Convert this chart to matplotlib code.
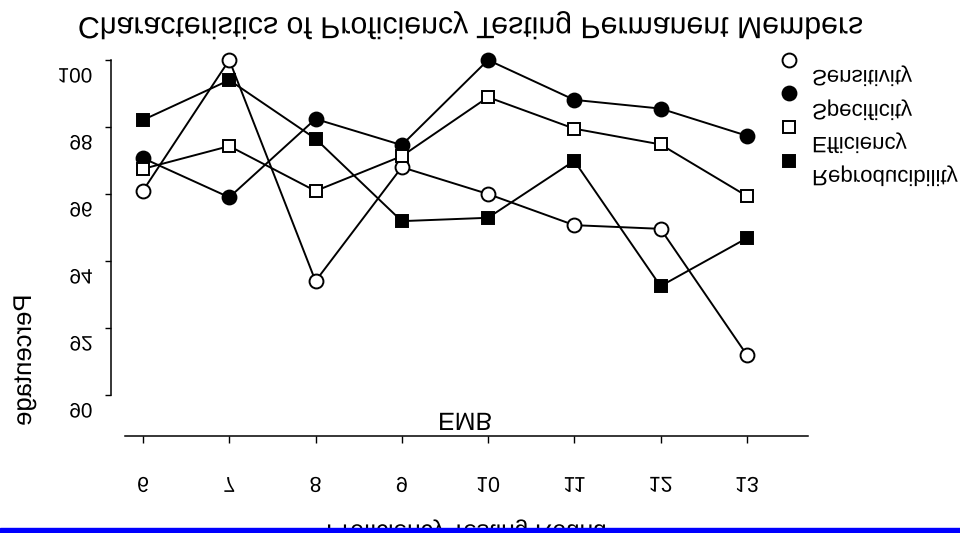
import matplotlib

matplotlib.use("agg")

import matplotlib.pyplot as plt
import matplotlib.patheffects as pe
from matplotlib.lines import Line2D
from matplotlib.patches import Rectangle
from matplotlib.transforms import Affine2D

rounds = [6, 7, 8, 9, 10, 11, 12, 13]
sensitivity = [96.1, 100.0, 93.4, 96.8, 96.0, 95.07, 94.96, 91.2]
specificity = [97.07, 95.9, 98.24, 97.46, 100.0, 98.81, 98.55, 97.74]
efficiency = [96.75, 97.43, 96.09, 97.13, 98.89, 97.95, 97.48, 95.94]
reproducibility = [98.21, 99.4, 97.65, 95.19, 95.29, 96.99, 93.25, 94.68]

series_names = ["Sensitivity", "Specificity", "Efficiency", "Reproducibility"]
y_ticks = [90, 92, 94, 96, 98, 100]

title = "Characteristics of Proficiency Testing Permanent Members"
x_label = "Proficiency Testing Round"
y_label = "Percentage"
sub_label = "EMB"

W, H = 960, 533


class FlipText(pe.AbstractPathEffect):
    """Mirror every glyph run upside down about its own middle,
    then nudge it by dy display pixels (negative = down)."""

    def __init__(self, dy=0):
        super().__init__()
        self.dy = dy

    def draw_path(self, renderer, gc, tpath, affine, rgbFace=None):
        box = tpath.get_extents(affine)
        cy = (box.y0 + box.y1) / 2
        flip = (Affine2D().translate(0, -cy).scale(1, -1)
                .translate(0, cy + self.dy))
        renderer.draw_path(gc, tpath, affine + flip, rgbFace)


FLIP = [FlipText()]

plt.rcParams["font.family"] = ["Liberation Sans", "DejaVu Sans"]


def fx(px):
    return px / W


def fy(py):
    return 1 - py / H


fig = plt.figure(figsize=(9.6, 5.33), dpi=100)

# axes box: x 6 -> 143px, 13 -> 747px; y 100 -> 60px, 90 -> 395px
x0, x1 = 5.791, 13.71
y0, y1 = 89.6, 100.4
left, right = 125, 808
top, bottom = 60 - 0.4 * 33.5, 395 + 0.4 * 33.5
ax = fig.add_axes([fx(left), fy(bottom), fx(right - left), (bottom - top) / H])
ax.set_xlim(x0, x1)
ax.set_ylim(y0, y1)

styles = [
    dict(marker="o", mfc="white", ms=10),
    dict(marker="o", mfc="black", ms=10),
    dict(marker="s", mfc="white", ms=9),
    dict(marker="s", mfc="black", ms=9),
]
for vals, st in zip([sensitivity, specificity, efficiency, reproducibility], styles):
    ax.plot(rounds, vals, color="black", lw=1.4, mec="black", mew=1.4,
            clip_on=False, **st)

for side in ["top", "right"]:
    ax.spines[side].set_visible(False)
ax.spines["left"].set_position(("outward", 10))
ax.spines["left"].set_bounds(90, 100)
ax.spines["bottom"].set_position(("outward", 19.6))
for side in ["left", "bottom"]:
    ax.spines[side].set_linewidth(1.1)

ax.set_yticks(y_ticks)
ax.set_xticks(rounds)
ax.tick_params(axis="y", length=4.3, width=1, pad=9, labelsize=15)
ax.tick_params(axis="x", length=5, width=1, pad=24, labelsize=15.5)
for lab in ax.get_xticklabels():
    lab.set_path_effects(FLIP)
for lab in ax.get_yticklabels():
    lab.set_path_effects([FlipText(dy=-15)])

fig.text(fx(470), fy(25), title, fontsize=21.8, ha="center", va="center",
         path_effects=FLIP)
fig.text(fx(465), fy(423), sub_label, fontsize=18, ha="center", va="center",
         path_effects=FLIP)
fig.text(fx(466), fy(531), x_label, fontsize=17.5, ha="center", va="center",
         path_effects=FLIP)
fig.text(fx(24), fy(361), y_label, fontsize=18.5, ha="center", va="center",
         rotation=90, path_effects=FLIP)

# legend drawn by hand: marker, then the label a little lower
leg_y = [60, 93.3, 127.3, 160.7]
txt_y = [76, 110, 143, 176]
for name, st, my, ty in zip(series_names, styles, leg_y, txt_y):
    fig.add_artist(Line2D([fx(789)], [fy(my)], transform=fig.transFigure,
                          color="black", mec="black", mew=1.4, **st))
    fig.text(fx(812), fy(ty), name, fontsize=16, ha="left", va="center",
             path_effects=FLIP)

fig.add_artist(Rectangle((0, 0), 1, 5 / H, transform=fig.transFigure,
                         color="#0000ff", zorder=10))

fig.savefig("out.png", dpi=100)
